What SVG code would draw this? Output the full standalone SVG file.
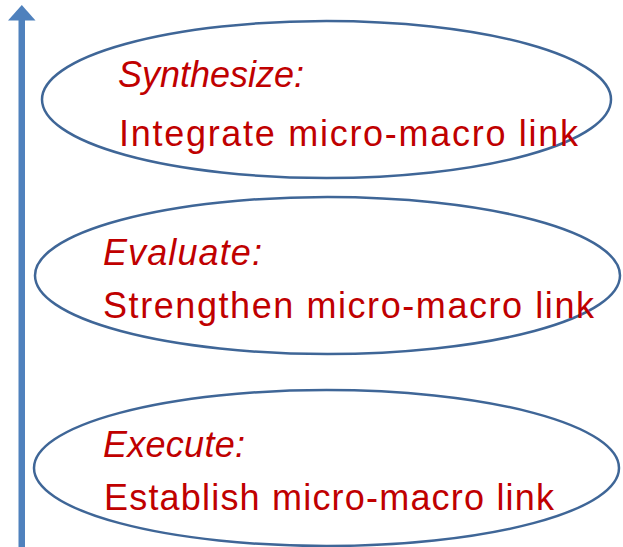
<svg xmlns="http://www.w3.org/2000/svg" width="623" height="547" viewBox="0 0 623 547">
  <style>
    .stage { fill: #ffffff; stroke: #3F6697; stroke-width: 2.5; }
    .label { font-family: "Liberation Sans", Arial, sans-serif; font-size: 36px; fill: #C00000; }
    .title { font-style: italic; }
    .axis { fill: #4F81BD; }
  </style>
  <rect width="623" height="547" fill="#ffffff"/>

  <!-- vertical progression arrow -->
  <g id="connectors">
    <rect class="axis" x="18.5" y="19" width="6.5" height="528"/>
    <polygon class="axis" points="8,20.5 21.8,5 35.5,20.5"/>
  </g>

  <g id="synthesize">
    <ellipse class="stage" cx="326.5" cy="99.5" rx="284.5" ry="78.5"/>
    <text class="label title" x="118" y="87" textLength="186" lengthAdjust="spacing">Synthesize:</text>
    <text class="label" x="119" y="146" textLength="459" lengthAdjust="spacing">Integrate micro-macro link</text>
  </g>

  <g id="evaluate">
    <ellipse class="stage" cx="327.5" cy="275.5" rx="292.5" ry="78.5"/>
    <text class="label title" x="103" y="265" textLength="159" lengthAdjust="spacing">Evaluate:</text>
    <text class="label" x="103" y="318" textLength="491" lengthAdjust="spacing">Strengthen micro-macro link</text>
  </g>

  <g id="execute">
    <ellipse class="stage" cx="326.5" cy="468" rx="292.5" ry="78"/>
    <text class="label title" x="103" y="457" textLength="142" lengthAdjust="spacing">Execute:</text>
    <text class="label" x="104" y="510" textLength="450" lengthAdjust="spacing">Establish micro-macro link</text>
  </g>
</svg>
